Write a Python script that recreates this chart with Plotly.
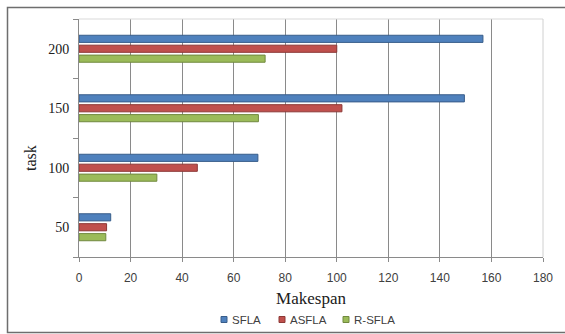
import plotly.graph_objects as go

# Task counts (y categories) and makespan per algorithm
tasks = ["50", "100", "150", "200"]
sfla = [12.3, 69.4, 149.5, 156.7]
asfla = [10.7, 45.9, 102.0, 100.0]
r_sfla = [10.4, 30.2, 69.6, 72.2]

x_ticks = [0, 20, 40, 60, 80, 100, 120, 140, 160, 180]

series = [
    ("R-SFLA", r_sfla, "#9BBB59", "#71893F"),
    ("ASFLA", asfla, "#C0504D", "#8C3836"),
    ("SFLA", sfla, "#4F81BD", "#385D8A"),
]

fig = go.Figure()
for name, vals, fill, edge in series:
    fig.add_trace(go.Bar(
        y=tasks, x=vals, name=name, orientation="h",
        marker=dict(color=fill, line=dict(color=edge, width=1)),
    ))

W, H = 565, 334
ml, mr, mt, mb = 79, 22, 19, 77
pw, ph = W - ml - mr, H - mt - mb


def px_x(px):
    return (px - ml) / pw


def px_y(py):
    return (H - mb - py) / ph


serif = "Liberation Serif"
sans = "Liberation Sans"

shapes = [
    # light frame on the top and right of the plotting area
    dict(type="line", xref="paper", yref="paper", x0=0, x1=1, y0=1, y1=1,
         line=dict(color="#D9D9D9", width=1), layer="above"),
    dict(type="line", xref="paper", yref="paper", x0=1, x1=1, y0=0, y1=1,
         line=dict(color="#D0D0D0", width=1), layer="above"),
    # outer chart frame
    dict(type="rect", xref="paper", yref="paper",
         x0=px_x(7.5), x1=px_x(575), y0=px_y(7.5), y1=px_y(332.5),
         line=dict(color="#6E6E6E", width=1.5), layer="below"),
]

# y-axis title, sitting a little below the middle of the axis
annotations = [dict(
    text="task", xref="paper", yref="paper", x=px_x(31), y=px_y(158),
    xanchor="center", yanchor="middle", textangle=-90, showarrow=False,
    font=dict(family=serif, size=16, color="#202020"),
)]

# Legend row below the axis title: small square key + label for each series
key_left = {"SFLA": 221, "ASFLA": 279, "R-SFLA": 343}
key_y = 319.5
for name, vals, fill, edge in reversed(series):
    x0 = key_left[name]
    shapes.append(dict(
        type="rect", xref="paper", yref="paper",
        x0=px_x(x0), x1=px_x(x0 + 6), y0=px_y(key_y + 3), y1=px_y(key_y - 3),
        fillcolor=fill, line=dict(color=edge, width=1),
    ))
    annotations.append(dict(
        text=name, xref="paper", yref="paper", x=px_x(x0 + 9), y=px_y(key_y),
        xanchor="left", yanchor="middle", showarrow=False,
        font=dict(family=sans, size=11.5, color="#404040"),
    ))

fig.update_layout(
    width=W, height=H,
    margin=dict(l=ml, r=mr, t=mt, b=mb, autoexpand=False),
    paper_bgcolor="white", plot_bgcolor="white",
    barmode="group", bargap=0.5, bargroupgap=0.28,
    showlegend=False,
    xaxis=dict(
        range=[0, 180], tickvals=x_ticks, ticktext=[str(v) for v in x_ticks],
        showgrid=True, gridcolor="#8A8A8A", gridwidth=1,
        showline=True, linecolor="#8A8A8A", linewidth=1,
        ticks="outside", ticklen=4, tickcolor="#8A8A8A",
        tickfont=dict(family=sans, size=12, color="#404040"),
        ticklabelstandoff=6, automargin=False,
        zeroline=False,
        title=dict(text="Makespan", font=dict(family=serif, size=17, color="#202020"), standoff=7),
    ),
    yaxis=dict(
        type="category", categoryorder="array", categoryarray=tasks,
        showgrid=False, showline=True, linecolor="#8A8A8A", linewidth=1,
        ticks="outside", tickson="boundaries", ticklen=5, tickcolor="#8A8A8A",
        tickfont=dict(family=serif, size=14, color="#202020"),
        ticklabelstandoff=6, automargin=False,
    ),
    shapes=shapes,
    annotations=annotations,
)

fig.write_html("out.html")
